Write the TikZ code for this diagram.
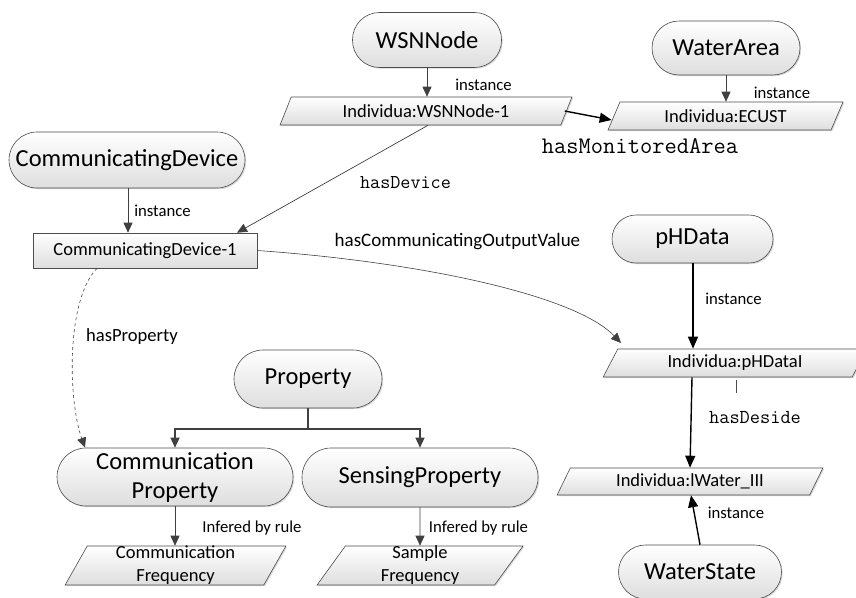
\documentclass[tikz,border=0pt]{standalone}
\usepackage{fontspec}
\setmainfont{Carlito}
\usetikzlibrary{shapes.geometric,arrows.meta,shadows}
\tikzset{
  shaded/.style={draw=black!70, line width=0.6pt, top color=white, bottom color=black!13,
    drop shadow={shadow xshift=1.2pt, shadow yshift=-1.2pt, opacity=0.3}},
  pill/.style={shaded, rectangle, rounded corners=#1, inner sep=0pt, align=center,
    font=\fontsize{24.5}{29}\selectfont},
  pill/.default=27pt,
  para/.style={shaded, trapezium, trapezium left angle=#1, trapezium right angle=180-#1,
    trapezium stretches=true, inner sep=0pt, align=center, font=\fontsize{18.5}{23}\selectfont},
  para/.default=62,
  rbox/.style={shaded, rectangle, inner sep=0pt, font=\fontsize{18.5}{21}\selectfont},
  lab/.style={inner sep=1pt, font=\fontsize{16.7}{19}\selectfont},
  mlab/.style={inner sep=1pt, font=\ttfamily\fontsize{#1}{#1}\selectfont},
  thin/.style={draw=black!75, line width=0.7pt, -{Triangle[length=10pt,width=9pt]}},
  thick/.style={draw=black, line width=1.4pt, -{Triangle[length=12pt,width=10pt]}},
}
\begin{document}
\begin{tikzpicture}[x=1pt,y=-1pt]
\useasboundingbox (0,0) rectangle (856,597);

% class pills
\node[pill, minimum width=149pt, minimum height=55pt] (wsn) at (427,40) {WSNNode};
\node[pill, minimum width=148pt, minimum height=54pt] (warea) at (726,48) {WaterArea};
\node[pill=28pt, minimum width=236pt, minimum height=56pt] (cdev) at (127,160) {CommunicatingDevice};
\node[pill=24pt, minimum width=161pt, minimum height=48pt] (phd) at (692.5,239) {pHData};
\node[pill=29pt, minimum width=148pt, minimum height=58pt] (prop) at (308,379) {Property};
\node[pill=29pt, minimum width=236pt, minimum height=58pt] (cprop) at (175,477) {Communication\\Property};
\node[pill=29pt, minimum width=236pt, minimum height=59pt] (sprop) at (420,477.5) {SensingProperty};
\node[pill=27pt, minimum width=163pt, minimum height=54pt] (wstate) at (700,572) {WaterState};

% individuals
\node[para, minimum width=292pt, minimum height=28pt] (wsn1) at (426,111) {Individua:WSNNode-1};
\node[para, minimum width=235pt, minimum height=28pt] (ecust) at (725.5,116) {Individua:ECUST};
\node[rbox, minimum width=224pt, minimum height=35pt] (cd1) at (145,250.5) {CommunicatingDevice-1};
\node[para, minimum width=264pt, minimum height=28pt] (phi) at (735,363) {Individua:pHDataI};
\node[para, minimum width=266pt, minimum height=27pt] (w3) at (690,481.5) {Individua:lWater\_III};
\node[para=69, minimum width=221pt, minimum height=39pt] (cfreq) at (175.5,565.5) {Communication\\Frequency};
\node[para=69, minimum width=206pt, minimum height=39pt] (sfreq) at (420,565.5) {Sample\\Frequency};

% labels
\node[lab] (l1) at (483.5,85) {instance};
\node[lab] (l2) at (782,93) {instance};
\node[lab] (l3) at (162.5,211) {instance};
\node[lab] (l4) at (733.5,299) {instance};
\node[lab] (l5) at (736,513) {instance};
\node[mlab=19.6] (hd) at (405.5,183) {hasDevice};
\node[mlab=23.8] (hma) at (640,146) {hasMonitoredArea};
\node[mlab=19.8] (hds) at (755,418) {hasDeside};
\node[inner sep=1pt, font=\fontsize{19}{21}\selectfont] (hcov) at (457.5,242) {hasCommunicatingOutputValue};
\node[inner sep=1pt, font=\fontsize{18.6}{21}\selectfont] (hp) at (132,337) {hasProperty};
\node[lab] (ir1) at (252,528) {Infered by rule};
\node[lab] (ir2) at (478.5,528) {Infered by rule};

% connectors
\draw[thin] (wsn.south) -- (wsn1.north -| wsn.south);
\draw[thin] (warea.south) -- (ecust.north -| warea.south);
\draw[thin] (cdev.south -| 128,0) -- (cd1.north -| 128,0);
\draw[thick] ([xshift=-2pt]wsn1.east) -- ([xshift=-2pt,yshift=-4pt]ecust.west);
\draw[thin] (wsn1.south -| 428,0) -- (cd1.north -| 237,0);
\coordinate (phin) at (621,343);
\draw[thin, line width=0.6pt] (cd1.east) .. controls (420,262) and (575,295) .. (phin);
\draw[thin, dashed, line width=0.6pt] (cd1.south -| 97,0) .. controls (66,300) and (68,400) .. (cprop.north -| 85,0);
\draw[thick] (phd.south -| 693,0) -- (phi.north -| 693,0);
\draw[thick] (phi.south -| 692,0) -- (w3.north -| 690,0);
\draw[black!70, line width=0.6pt] (736,380) -- (736,393);
\draw[thick] (wstate.north) -- (w3.south -| 691,0);
% property tree
\coordinate (pj) at (308,429);
\draw[thin, line width=1.4pt] (prop.south) -- (pj) -| (cprop.north);
\draw[thin, line width=1.4pt] (pj) -| (sprop.north);
\draw[thin] (cprop.south) -- (cfreq.north -| cprop.south);
\draw[thin] (sprop.south) -- (sfreq.north);
\end{tikzpicture}
\end{document}
